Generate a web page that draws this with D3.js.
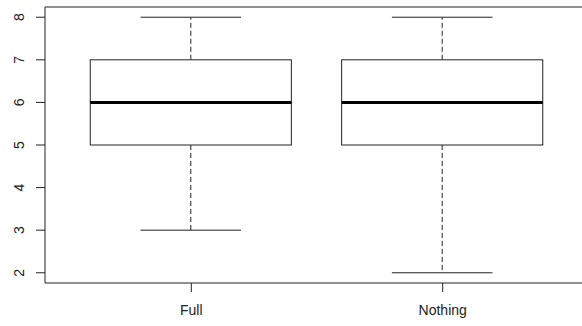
<!DOCTYPE html>
<html>
<head>
<meta charset="utf-8">
<script src="https://cdn.jsdelivr.net/npm/d3@7"></script>
<style>
  html, body { margin: 0; padding: 0; background: #fff; overflow: hidden; }
  svg { display: block; }
  text { font-family: "Liberation Sans", Arial, sans-serif; fill: #222; }
</style>
</head>
<body>
<svg id="chart" width="582" height="326"></svg>
<script>
// Groups and five-number summaries
const groups = ["Full", "Nothing"];
const mins    = [3, 2];
const q1s     = [5, 5];
const medians = [6, 6];
const q3s     = [7, 7];
const maxs    = [8, 8];
const yTicks  = [2, 3, 4, 5, 6, 7, 8];

const svg = d3.select("#chart");
const plot = { left: 45, top: 7, right: 588, bottom: 283 };

// R-style axis domains: 4% padding on each side
const x = d3.scaleLinear().domain([0.42, 2.58]).range([plot.left, plot.right]);
const y = d3.scaleLinear().domain([1.76, 8.24]).range([plot.bottom, plot.top]);

const ink = "#222";

// Frame (right side falls past the drawing edge)
svg.append("path")
  .attr("d", `M${plot.right},${plot.top}H${plot.left}V${plot.bottom}H${plot.right}`)
  .attr("fill", "none").attr("stroke", ink).attr("stroke-width", 1);

// Y axis
const yAxis = svg.append("g")
  .attr("transform", `translate(${plot.left},0)`)
  .call(d3.axisLeft(y).tickValues(yTicks).tickSize(9).tickPadding(12).tickFormat(d3.format("d")));
yAxis.select(".domain").remove();
yAxis.selectAll(".tick").attr("transform", (d) => `translate(0,${y(d)})`);
yAxis.selectAll(".tick line").attr("stroke", ink);
yAxis.selectAll(".tick text")
  .attr("font-size", 14)
  .attr("x", null).attr("dy", null)
  .attr("text-anchor", "middle")
  .attr("transform", "translate(-21,0) rotate(-90)")
  .attr("fill", ink);

// X axis
const xAxis = svg.append("g")
  .attr("transform", `translate(0,${plot.bottom})`)
  .call(d3.axisBottom(x).tickValues([1, 2]).tickSize(9).tickPadding(13)
    .tickFormat((d) => groups[d - 1]));
xAxis.select(".domain").remove();
xAxis.selectAll(".tick line").attr("stroke", ink);
xAxis.selectAll(".tick text").attr("font-size", 14).attr("fill", ink);

// Boxes
const boxHalf = 0.4 * (x(2) - x(1));
const capHalf = boxHalf / 2;

groups.forEach((g, i) => {
  const cx = x(i + 1);
  const grp = svg.append("g");

  // whiskers
  grp.append("line")
    .attr("x1", cx).attr("x2", cx)
    .attr("y1", y(q3s[i])).attr("y2", y(maxs[i]))
    .attr("stroke", ink).attr("stroke-dasharray", "5,3");
  grp.append("line")
    .attr("x1", cx).attr("x2", cx)
    .attr("y1", y(q1s[i])).attr("y2", y(mins[i]))
    .attr("stroke", ink).attr("stroke-dasharray", "5,3");

  // caps
  [mins[i], maxs[i]].forEach((v) => {
    grp.append("line")
      .attr("x1", cx - capHalf).attr("x2", cx + capHalf)
      .attr("y1", y(v)).attr("y2", y(v))
      .attr("stroke", ink);
  });

  // box
  grp.append("rect")
    .attr("x", cx - boxHalf)
    .attr("y", y(q3s[i]))
    .attr("width", 2 * boxHalf)
    .attr("height", y(q1s[i]) - y(q3s[i]))
    .attr("fill", "#fff").attr("stroke", ink);

  // median
  grp.append("line")
    .attr("x1", cx - boxHalf).attr("x2", cx + boxHalf)
    .attr("y1", y(medians[i])).attr("y2", y(medians[i]))
    .attr("stroke", "#000").attr("stroke-width", 3);
});
</script>
</body>
</html>
